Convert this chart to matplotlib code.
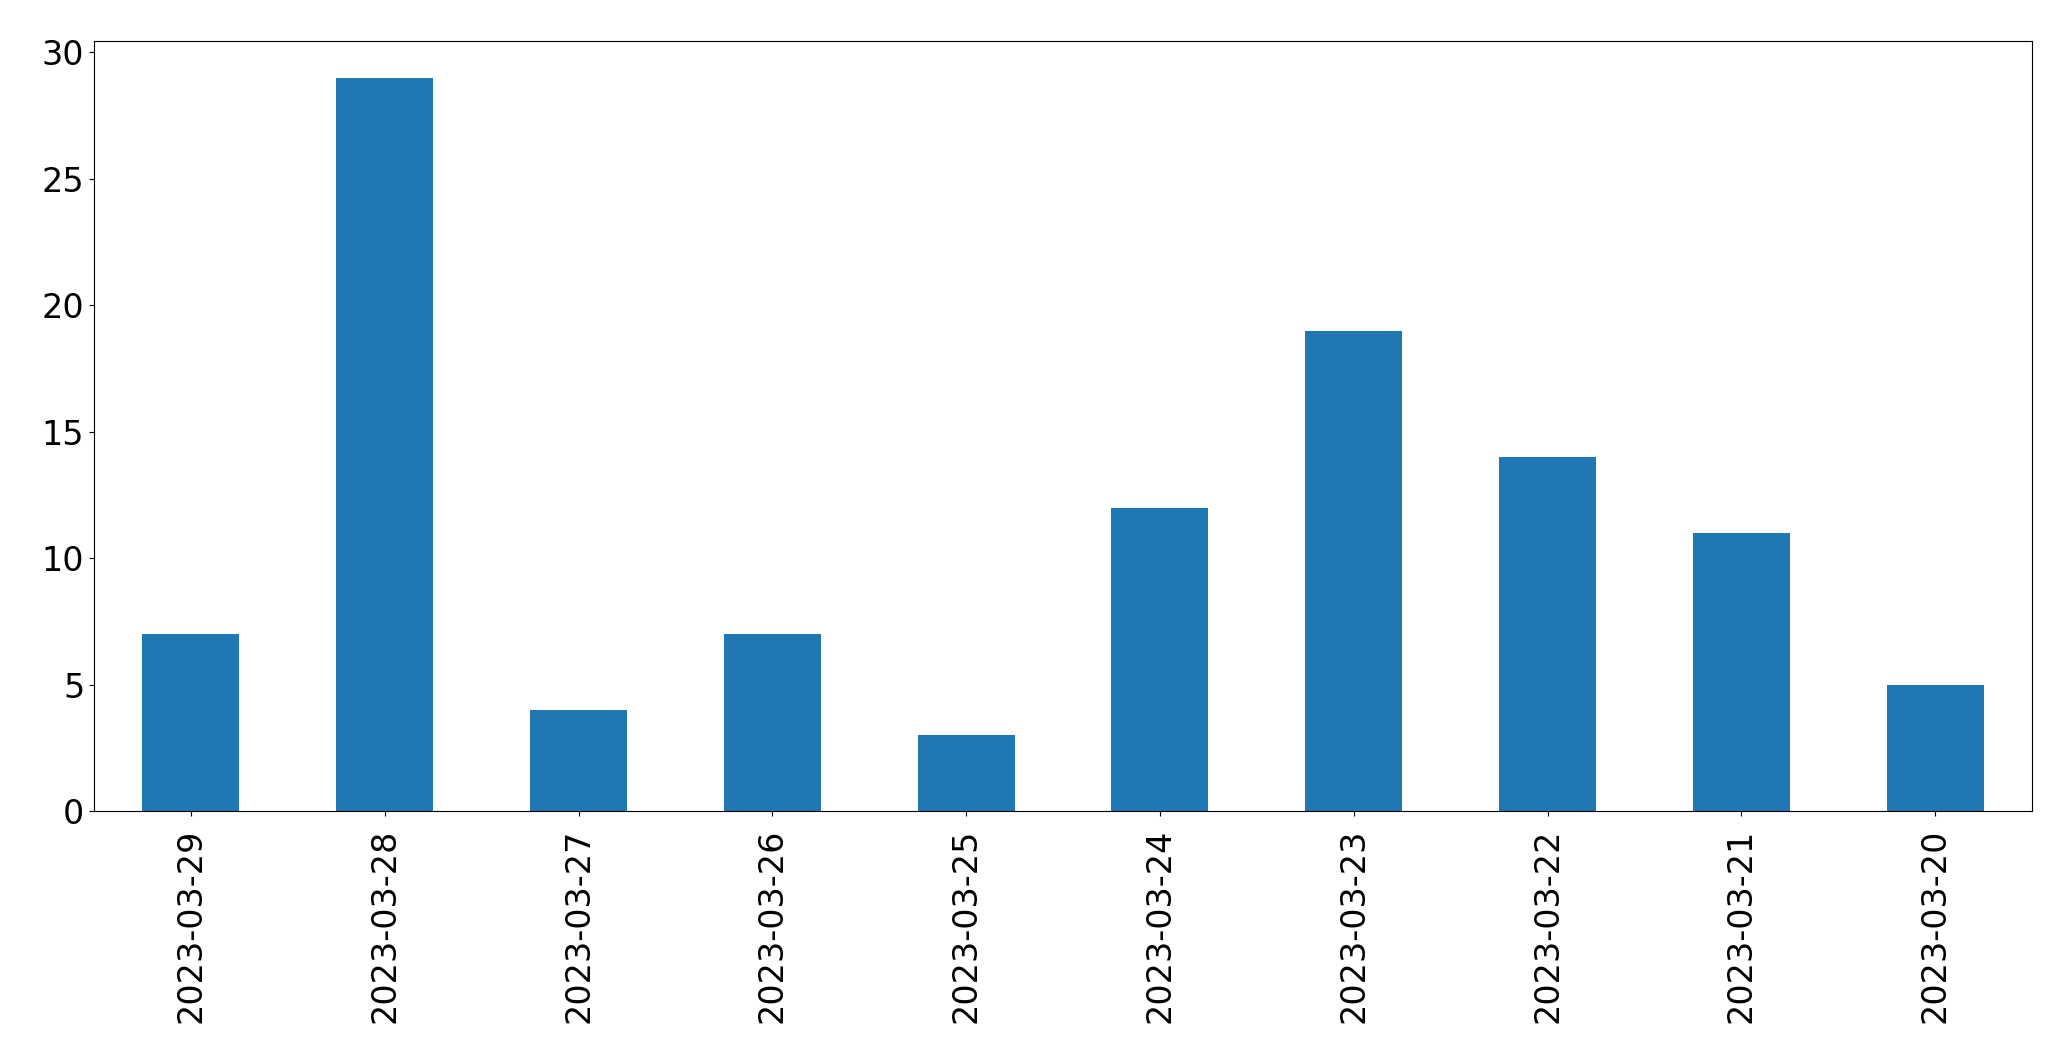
import pandas as pd
import matplotlib
matplotlib.use('Agg')
import matplotlib.pyplot as plt

dates = ['2023-03-29', '2023-03-28', '2023-03-27', '2023-03-26', '2023-03-25',
         '2023-03-24', '2023-03-23', '2023-03-22', '2023-03-21', '2023-03-20']
counts = [7, 29, 4, 7, 3, 12, 19, 14, 11, 5]

series = pd.Series(counts, index=dates)

fig = plt.figure(figsize=(20.71, 10.63), dpi=100)
ax = fig.add_axes([0.0454, 0.2371, 0.9358, 0.7243])
series.plot(kind='bar', ax=ax, color='#1f77b4')
ax.tick_params(axis='both', labelsize=24)
ax.tick_params(axis='x', pad=9)
ax.set_yticks([0, 5, 10, 15, 20, 25, 30])
for s in ax.spines.values():
    s.set_color('black')

fig.savefig('out.png', dpi=100)
